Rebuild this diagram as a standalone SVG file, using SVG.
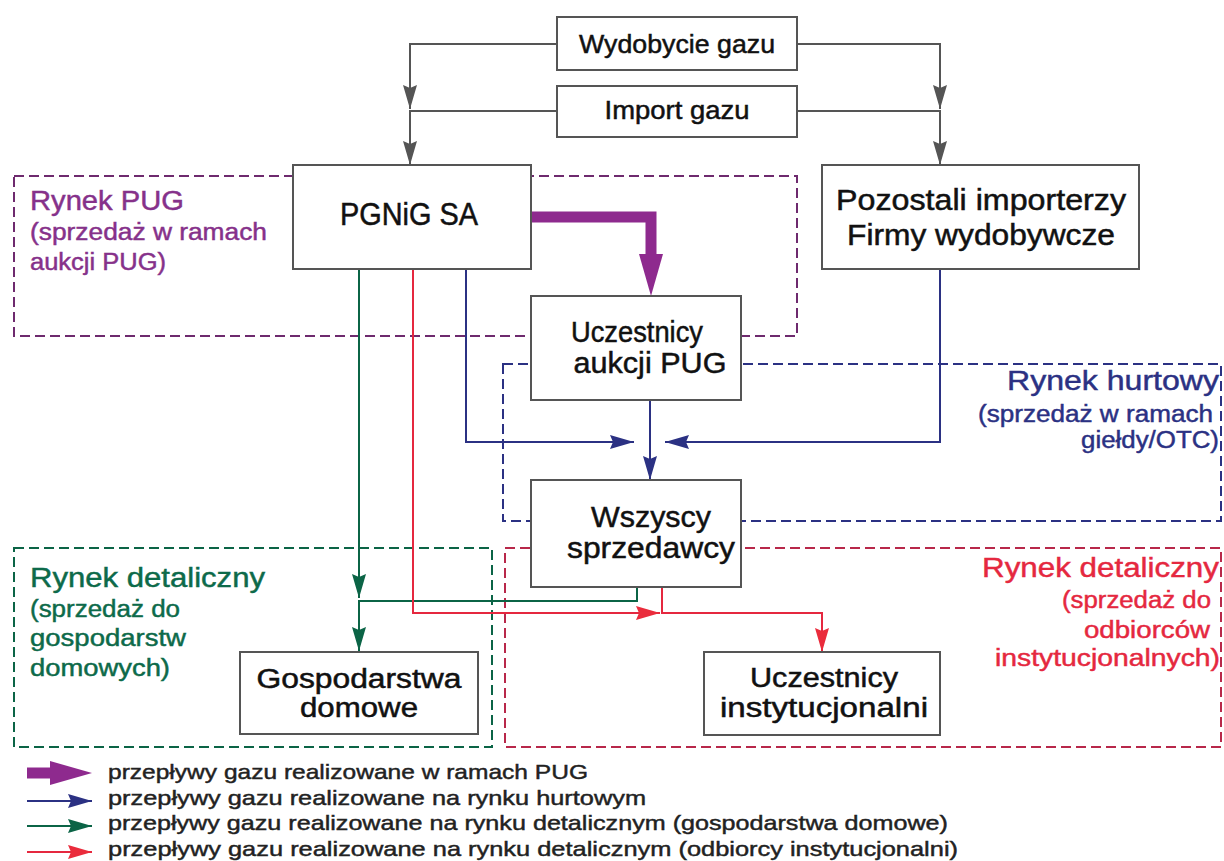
<svg xmlns="http://www.w3.org/2000/svg" width="1224" height="861" viewBox="0 0 1224 861">
<defs>
<style>
.box{fill:#fff;stroke:#555;stroke-width:2}
.t{font-family:"Liberation Sans",Arial,sans-serif;fill:#111;stroke:#111;stroke-width:0.5;text-anchor:middle}
.reg{fill:none;stroke-width:2;stroke-dasharray:10,5}
.rt{font-family:"Liberation Sans",Arial,sans-serif;stroke-width:0.45}
.ln{fill:none;stroke-width:2}
.gray{stroke:#555}
.navy{stroke:#2b3183}
.green{stroke:#0b6446}
.red{stroke:#e5283f}
.purple{stroke:#8e2a8e;stroke-width:11;stroke-linejoin:miter;fill:none}
</style>
<marker id="ag" markerUnits="userSpaceOnUse" markerWidth="24" markerHeight="14" refX="24" refY="7" orient="auto"><path d="M0,0 L24,7 L0,14 L3,7 z" fill="#555"/></marker>
<marker id="an" markerUnits="userSpaceOnUse" markerWidth="24" markerHeight="14" refX="24" refY="7" orient="auto"><path d="M0,0 L24,7 L0,14 L3,7 z" fill="#2b3183"/></marker>
<marker id="agr" markerUnits="userSpaceOnUse" markerWidth="24" markerHeight="14" refX="24" refY="7" orient="auto"><path d="M0,0 L24,7 L0,14 L3,7 z" fill="#0b6446"/></marker>
<marker id="ar" markerUnits="userSpaceOnUse" markerWidth="24" markerHeight="14" refX="24" refY="7" orient="auto"><path d="M0,0 L24,7 L0,14 L3,7 z" fill="#ea2c3c"/></marker>
<marker id="ap" markerUnits="userSpaceOnUse" markerWidth="42" markerHeight="24" refX="4" refY="12" orient="auto"><path d="M0,0 L42,12 L0,24 z" fill="#8e2a8e"/></marker>
</defs>
<rect width="1224" height="861" fill="#fff"/>

<g id="regions">
<g id="rynek-pug">
<rect class="reg" x="14" y="176" width="783" height="160" stroke="#6e2a6e"/>
<text class="rt" fill="#86318a" stroke="#86318a" font-size="27" x="30" y="210" textLength="154" lengthAdjust="spacingAndGlyphs">Rynek PUG</text>
<text class="rt" fill="#86318a" stroke="#86318a" font-size="23" x="30" y="240" textLength="237" lengthAdjust="spacingAndGlyphs">(sprzedaż w ramach</text>
<text class="rt" fill="#86318a" stroke="#86318a" font-size="23" x="30" y="270" textLength="136" lengthAdjust="spacingAndGlyphs">aukcji PUG)</text>
</g>
<g id="rynek-hurtowy">
<rect class="reg" x="503" y="364" width="718" height="157" stroke="#2b3183"/>
<text class="rt" fill="#2b3183" stroke="#2b3183" font-size="27" x="1219" y="390" text-anchor="end" textLength="212" lengthAdjust="spacingAndGlyphs">Rynek hurtowy</text>
<text class="rt" fill="#2b3183" stroke="#2b3183" font-size="23" x="1213" y="422" text-anchor="end" textLength="235" lengthAdjust="spacingAndGlyphs">(sprzedaż w ramach</text>
<text class="rt" fill="#2b3183" stroke="#2b3183" font-size="23" x="1219" y="448" text-anchor="end" textLength="138" lengthAdjust="spacingAndGlyphs">giełdy/OTC)</text>
</g>
<g id="rynek-detaliczny-domowy">
<rect class="reg" x="14" y="548" width="478" height="199" stroke="#0b6446"/>
<text class="rt" fill="#0d6a4a" stroke="#0d6a4a" font-size="27" x="30" y="587" textLength="235" lengthAdjust="spacingAndGlyphs">Rynek detaliczny</text>
<text class="rt" fill="#0d6a4a" stroke="#0d6a4a" font-size="23" x="30" y="617" textLength="150" lengthAdjust="spacingAndGlyphs">(sprzedaż do</text>
<text class="rt" fill="#0d6a4a" stroke="#0d6a4a" font-size="23" x="30" y="646" textLength="156" lengthAdjust="spacingAndGlyphs">gospodarstw</text>
<text class="rt" fill="#0d6a4a" stroke="#0d6a4a" font-size="23" x="30" y="676" textLength="140" lengthAdjust="spacingAndGlyphs">domowych)</text>
</g>
<g id="rynek-detaliczny-inst">
<rect class="reg" x="505" y="548" width="716" height="199" stroke="#b8284a"/>
<text class="rt" fill="#e5283f" stroke="#e5283f" font-size="27" x="1219" y="577" text-anchor="end" textLength="237" lengthAdjust="spacingAndGlyphs">Rynek detaliczny</text>
<text class="rt" fill="#e5283f" stroke="#e5283f" font-size="23" x="1211" y="608" text-anchor="end" textLength="149" lengthAdjust="spacingAndGlyphs">(sprzedaż do</text>
<text class="rt" fill="#e5283f" stroke="#e5283f" font-size="23" x="1210" y="638" text-anchor="end" textLength="126" lengthAdjust="spacingAndGlyphs">odbiorców</text>
<text class="rt" fill="#e5283f" stroke="#e5283f" font-size="23" x="1220" y="666" text-anchor="end" textLength="225" lengthAdjust="spacingAndGlyphs">instytucjonalnych)</text>
</g>
</g>

<g id="connectors">
<path class="ln gray" d="M557,44 H410 V109" marker-end="url(#ag)"/>
<path class="ln gray" d="M557,111 H410 V165" marker-end="url(#ag)"/>
<path class="ln gray" d="M797,44 H940 V109" marker-end="url(#ag)"/>
<path class="ln gray" d="M797,111 H940 V165" marker-end="url(#ag)"/>
<path class="purple" d="M531,217 H651 V258" marker-end="url(#ap)"/>
<path class="ln navy" d="M466,269 V442 H634" marker-end="url(#an)"/>
<path class="ln navy" d="M940,269 V442 H665" marker-end="url(#an)"/>
<path class="ln navy" d="M650,400 V480" marker-end="url(#an)"/>
<path class="ln green" d="M359,269 V598" marker-end="url(#agr)"/>
<path class="ln green" d="M637,587 V601 H359 V651" marker-end="url(#agr)"/>
<path class="ln red" d="M413,269 V613 H660" marker-end="url(#ar)"/>
<path class="ln red" d="M662,587 V613 H822 V652" marker-end="url(#ar)"/>
</g>

<g id="wydobycie"><rect class="box" x="557" y="17" width="240" height="53"/><text class="t" font-size="26" x="677" y="53" textLength="196" lengthAdjust="spacingAndGlyphs">Wydobycie gazu</text></g>
<g id="import"><rect class="box" x="557" y="86" width="240" height="51"/><text class="t" font-size="26" x="677" y="119" textLength="145" lengthAdjust="spacingAndGlyphs">Import gazu</text></g>
<g id="pgnig"><rect class="box" x="293" y="165" width="238" height="104"/><text class="t" font-size="31" x="409" y="225" textLength="138" lengthAdjust="spacingAndGlyphs">PGNiG SA</text></g>
<g id="pozostali"><rect class="box" x="822" y="165" width="317" height="104"/><text class="t" font-size="29" x="981" y="210" textLength="290" lengthAdjust="spacingAndGlyphs">Pozostali importerzy</text><text class="t" font-size="29" x="981" y="245" textLength="268" lengthAdjust="spacingAndGlyphs">Firmy wydobywcze</text></g>
<g id="uczestnicy-pug"><rect class="box" x="531" y="296" width="210" height="104"/><text class="t" font-size="30" x="637" y="342" textLength="132" lengthAdjust="spacingAndGlyphs">Uczestnicy</text><text class="t" font-size="30" x="650" y="373" textLength="153" lengthAdjust="spacingAndGlyphs">aukcji PUG</text></g>
<g id="wszyscy"><rect class="box" x="531" y="480" width="210" height="107"/><text class="t" font-size="30" x="651" y="527" textLength="120" lengthAdjust="spacingAndGlyphs">Wszyscy</text><text class="t" font-size="30" x="651" y="558" textLength="168" lengthAdjust="spacingAndGlyphs">sprzedawcy</text></g>
<g id="gospodarstwa"><rect class="box" x="240" y="652" width="238" height="82"/><text class="t" font-size="27" x="359" y="688" textLength="205" lengthAdjust="spacingAndGlyphs">Gospodarstwa</text><text class="t" font-size="27" x="359" y="717" textLength="118" lengthAdjust="spacingAndGlyphs">domowe</text></g>
<g id="uczestnicy-inst"><rect class="box" x="704" y="652" width="236" height="83"/><text class="t" font-size="27" x="824" y="687" textLength="148" lengthAdjust="spacingAndGlyphs">Uczestnicy</text><text class="t" font-size="27" x="824" y="717" textLength="208" lengthAdjust="spacingAndGlyphs">instytucjonalni</text></g>

<g id="legend">
<path class="purple" d="M27,773 H54" marker-end="url(#ap)"/>
<path class="ln navy" d="M27,801 H92" marker-end="url(#an)"/>
<path class="ln green" d="M27,826 H92" marker-end="url(#agr)"/>
<path class="ln red" d="M27,852 H92" marker-end="url(#ar)"/>
<text class="rt" fill="#222" stroke="#222" font-size="21" x="108" y="779" textLength="480" lengthAdjust="spacingAndGlyphs">przepływy gazu realizowane w ramach PUG</text>
<text class="rt" fill="#222" stroke="#222" font-size="21" x="108" y="805" textLength="538" lengthAdjust="spacingAndGlyphs">przepływy gazu realizowane na rynku hurtowym</text>
<text class="rt" fill="#222" stroke="#222" font-size="21" x="108" y="830" textLength="840" lengthAdjust="spacingAndGlyphs">przepływy gazu realizowane na rynku detalicznym (gospodarstwa domowe)</text>
<text class="rt" fill="#222" stroke="#222" font-size="21" x="108" y="856" textLength="850" lengthAdjust="spacingAndGlyphs">przepływy gazu realizowane na rynku detalicznym (odbiorcy instytucjonalni)</text>
</g>
</svg>
